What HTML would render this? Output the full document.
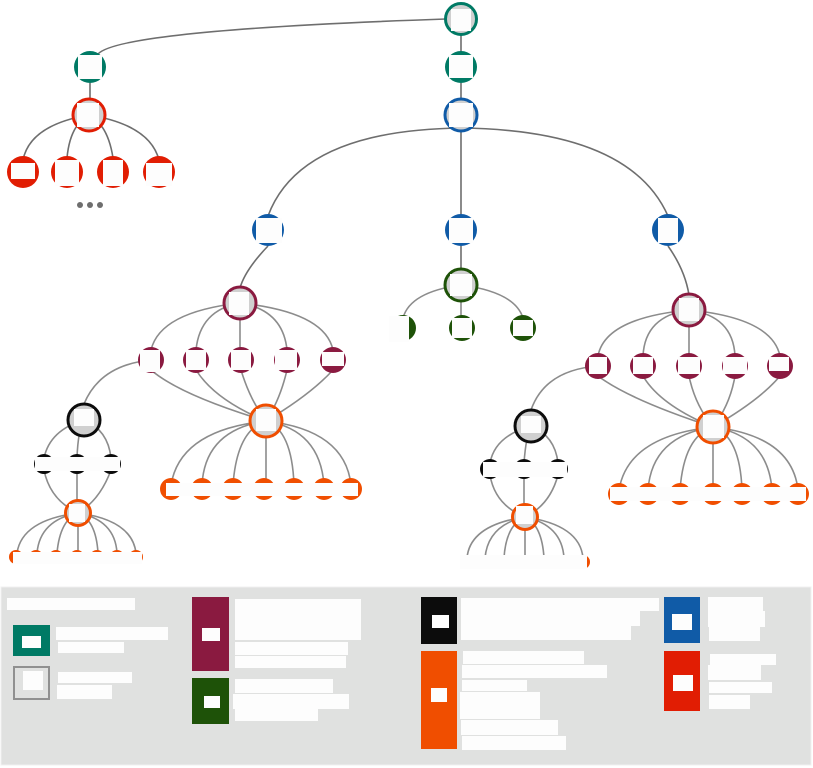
<!DOCTYPE html>
<html><head><meta charset="utf-8"><style>
html,body{margin:0;padding:0;background:#fff;width:813px;height:768px;overflow:hidden}
svg{display:block}
</style></head><body>
<svg width="813" height="768" viewBox="0 0 813 768" xmlns="http://www.w3.org/2000/svg">
<g fill="none" stroke="#6e6e6e" stroke-width="1.6">
<path d="M446,19 Q120,30 98,54"/>
<path d="M461,35 V52 M461,83 V99 M90,83 V99"/>
<path d="M89,115 Q30,125 23,160 M89,115 Q70,125 67,158 M89,115 Q108,125 113,158 M89,115 Q150,125 159,160"/>
<path d="M461,128 Q300,130 268,216 M461,128 V216 M461,128 Q630,130 668,216"/>
<path d="M268,246 Q245,270 240,288 M461,246 V270 M668,246 Q685,270 689,295"/>
</g>
<g fill="none" stroke="#8c8c8c" stroke-width="1.6">
<path d="M240,303 Q160,312 151,350 M240,303 Q200,310 196,350 M240,303 V350 M240,303 Q283,310 287,350 M240,303 Q325,312 333,350"/>
<path d="M461,285 Q410,292 403,318 M461,285 V318 M461,285 Q515,292 523,318"/>
<path d="M689,310 Q605,318 598,356 M689,310 Q645,316 643,356 M689,310 V356 M689,310 Q733,316 735,356 M689,310 Q772,318 780,356"/>
<path d="M151,360 Q100,365 84,404"/>
<path d="M598,366 Q545,370 531,410"/>
<path d="M151,370 Q180,395 266,421 M196,370 Q215,400 266,421 M241,370 Q250,400 266,421 M287,370 Q280,400 266,421 M333,370 Q310,395 266,421"/>
<path d="M598,376 Q630,400 713,427 M643,376 Q660,405 713,427 M689,376 Q695,405 713,427 M735,376 Q730,405 713,427 M780,376 Q760,400 713,427"/>
<path d="M266,421 Q180,430 171,485 M266,421 Q205,430 202,485 M266,421 Q237,430 233,485 M266,421 V485 M266,421 Q292,430 294,485 M266,421 Q320,430 324,485 M266,421 Q345,430 351,485"/>
<path d="M713,427 Q628,436 619,490 M713,427 Q652,436 648,490 M713,427 Q684,436 680,490 M713,427 V490 M713,427 Q740,436 742,490 M713,427 Q768,436 772,490 M713,427 Q792,436 798,490"/>
<path d="M84,420 Q50,430 44,458 M84,420 Q78,430 77,458 M84,420 Q108,430 111,458"/>
<path d="M531,426 Q495,436 490,463 M531,426 Q526,436 524,463 M531,426 Q555,436 558,463"/>
<path d="M44,470 Q50,500 78,513 M77,470 V500 M111,470 Q100,500 78,513"/>
<path d="M490,475 Q495,505 525,517 M524,475 V505 M558,475 Q550,505 525,517"/>
<path d="M78,513 Q22,520 17,553 M78,513 Q40,520 37,553 M78,513 Q60,520 57,553 M78,513 V553 M78,513 Q96,520 98,553 M78,513 Q115,520 117,553 M78,513 Q132,520 136,553"/>
<path d="M525,517 Q470,525 467,558 M525,517 Q488,525 485,558 M525,517 Q506,525 504,558 M525,517 V558 M525,517 Q542,525 544,558 M525,517 Q562,525 564,558 M525,517 Q580,525 583,558"/>
</g>
<!-- ring nodes -->
<g stroke-width="3" fill="#d0d0d0">
<circle cx="461" cy="19" r="15.5" stroke="#007a65"/>
<circle cx="89" cy="115" r="16" stroke="#e11d03"/>
<circle cx="461" cy="115" r="16" stroke="#105ba7"/>
<circle cx="240" cy="303" r="16" stroke="#8a1a40"/>
<circle cx="461" cy="285" r="16" stroke="#1e5208"/>
<circle cx="689" cy="310" r="16" stroke="#8a1a40"/>
<circle cx="84" cy="420" r="16" stroke="#0c0c0c"/>
<circle cx="531" cy="426" r="16" stroke="#0c0c0c"/>
<circle cx="266" cy="421" r="16" stroke="#f04e00"/>
<circle cx="713" cy="427" r="16" stroke="#f04e00"/>
<circle cx="78" cy="513" r="12.5" stroke="#f04e00"/>
<circle cx="525" cy="517" r="12.5" stroke="#f04e00"/>
</g>
<!-- filled nodes -->
<g fill="#007a65"><circle cx="90" cy="67" r="16"/><circle cx="461" cy="67" r="16"/></g>
<g fill="#e11d03"><circle cx="23" cy="172" r="16"/><circle cx="67" cy="172" r="16"/><circle cx="113" cy="172" r="16"/><circle cx="159" cy="172" r="16"/></g>
<g fill="#6e6e6e"><circle cx="80" cy="205" r="3"/><circle cx="90" cy="205" r="3"/><circle cx="100" cy="205" r="3"/></g>
<g fill="#105ba7"><circle cx="268" cy="230" r="16"/><circle cx="461" cy="230" r="16"/><circle cx="668" cy="230" r="16"/></g>
<g fill="#8a1a40"><circle cx="151" cy="360" r="13"/><circle cx="196" cy="360" r="13"/><circle cx="241" cy="360" r="13"/><circle cx="287" cy="360" r="13"/><circle cx="333" cy="360" r="13"/>
<circle cx="598" cy="366" r="13"/><circle cx="643" cy="366" r="13"/><circle cx="689" cy="366" r="13"/><circle cx="735" cy="366" r="13"/><circle cx="780" cy="366" r="13"/></g>
<g fill="#1e5208"><circle cx="403" cy="328" r="13"/><circle cx="462" cy="328" r="13"/><circle cx="523" cy="328" r="13"/></g>
<g fill="#0c0c0c"><circle cx="44" cy="464" r="10"/><circle cx="77" cy="464" r="10"/><circle cx="111" cy="464" r="10"/><circle cx="490" cy="469" r="10"/><circle cx="524" cy="469" r="10"/><circle cx="558" cy="469" r="10"/></g>
<g fill="#f04e00"><circle cx="171" cy="489" r="11"/><circle cx="202" cy="489" r="11"/><circle cx="233" cy="489" r="11"/><circle cx="264" cy="489" r="11"/><circle cx="294" cy="489" r="11"/><circle cx="324" cy="489" r="11"/><circle cx="351" cy="489" r="11"/>
<circle cx="619" cy="494" r="11"/><circle cx="648" cy="494" r="11"/><circle cx="680" cy="494" r="11"/><circle cx="713" cy="494" r="11"/><circle cx="742" cy="494" r="11"/><circle cx="772" cy="494" r="11"/><circle cx="798" cy="494" r="11"/>
<circle cx="16" cy="557" r="7"/><circle cx="36" cy="557" r="7"/><circle cx="56" cy="557" r="7"/><circle cx="77" cy="557" r="7"/><circle cx="97" cy="557" r="7"/><circle cx="117" cy="557" r="7"/><circle cx="136" cy="557" r="7"/>
<circle cx="468" cy="562" r="7"/><circle cx="487" cy="562" r="7"/><circle cx="506" cy="562" r="7"/><circle cx="525" cy="562" r="7"/><circle cx="545" cy="562" r="7"/><circle cx="564" cy="562" r="7"/><circle cx="583" cy="562" r="7"/></g>
<!-- white label boxes -->
<g fill="#fdfdfd">
<rect x="451" y="9" width="20" height="22"/><rect x="78" y="55" width="24" height="24"/><rect x="449" y="55" width="24" height="23"/>
<rect x="77" y="103" width="22" height="24"/><rect x="449" y="103" width="24" height="24"/>
<rect x="11" y="163" width="24" height="16"/><rect x="55" y="160" width="24" height="26"/><rect x="103" y="160" width="20" height="26"/><rect x="146" y="163" width="26" height="23"/>
<rect x="256" y="218" width="26" height="25"/><rect x="449" y="218" width="24" height="25"/><rect x="658" y="218" width="20" height="25"/>
<rect x="229" y="292" width="20" height="23"/><rect x="450" y="274" width="22" height="22"/><rect x="679" y="298" width="20" height="23"/>
<rect x="140" y="350" width="20" height="22"/><rect x="186" y="350" width="20" height="20"/><rect x="231" y="350" width="20" height="20"/><rect x="275" y="350" width="22" height="20"/><rect x="322" y="352" width="22" height="14"/>
<rect x="389" y="316" width="20" height="26"/><rect x="452" y="318" width="20" height="20"/><rect x="513" y="320" width="20" height="16"/>
<rect x="589" y="357" width="18" height="17"/><rect x="633" y="357" width="20" height="17"/><rect x="678" y="357" width="22" height="17"/><rect x="723" y="357" width="24" height="17"/><rect x="769" y="357" width="20" height="14"/>
<rect x="74" y="409" width="20" height="17"/><rect x="521" y="416" width="20" height="17"/>
<rect x="256" y="409" width="20" height="22"/><rect x="703" y="415" width="21" height="23"/>
<rect x="69" y="504" width="16" height="18"/><rect x="516" y="506" width="17" height="18"/>
<rect x="35" y="457" width="85" height="14"/><rect x="483" y="462" width="84" height="15"/>
<rect x="166" y="483" width="192" height="13"/><rect x="610" y="487" width="196" height="14"/>
<rect x="13" y="552" width="129" height="12"/><rect x="460" y="555" width="127" height="14"/>
</g>
<!-- legend -->
<rect x="1" y="587" width="810" height="178" fill="#e0e1e0" stroke="#f0f0f0"/>
<g fill="#fdfdfd">
<rect x="7" y="598" width="128" height="12"/>
<rect x="56" y="627" width="112" height="13"/><rect x="58" y="642" width="66" height="11"/>
<rect x="58" y="672" width="74" height="11"/><rect x="57" y="685" width="55" height="14"/>
<rect x="235" y="599" width="126" height="41"/><rect x="235" y="642" width="113" height="13"/><rect x="235" y="656" width="111" height="12"/>
<rect x="235" y="679" width="98" height="14"/><rect x="233" y="694" width="116" height="15"/><rect x="235" y="709" width="83" height="12"/>
<rect x="461" y="598" width="198" height="13"/><rect x="461" y="611" width="179" height="15"/><rect x="461" y="626" width="170" height="14"/>
<rect x="463" y="651" width="121" height="13"/><rect x="462" y="665" width="145" height="13"/><rect x="462" y="680" width="65" height="11"/><rect x="460" y="692" width="80" height="27"/><rect x="461" y="720" width="97" height="15"/><rect x="462" y="736" width="104" height="14"/>
<rect x="708" y="597" width="55" height="14"/><rect x="708" y="611" width="57" height="16"/><rect x="709" y="627" width="51" height="14"/>
<rect x="710" y="654" width="66" height="11"/><rect x="708" y="665" width="53" height="15"/><rect x="709" y="682" width="63" height="11"/><rect x="709" y="695" width="41" height="14"/>
</g>
<rect x="13" y="625" width="37" height="31" fill="#007a65"/><rect x="22" y="636" width="19" height="12" fill="#fdfdfd"/>
<rect x="14" y="667" width="35" height="32" fill="#e0e1e0" stroke="#909090" stroke-width="2"/><rect x="23" y="671" width="20" height="19" fill="#fdfdfd"/>
<rect x="192" y="597" width="37" height="74" fill="#8a1a40"/><rect x="202" y="628" width="18" height="13" fill="#fdfdfd"/>
<rect x="192" y="678" width="37" height="46" fill="#1e5208"/><rect x="204" y="696" width="16" height="12" fill="#fdfdfd"/>
<rect x="421" y="597" width="36" height="47" fill="#0c0c0c"/><rect x="432" y="615" width="17" height="13" fill="#fdfdfd"/>
<rect x="421" y="651" width="36" height="98" fill="#f04e00"/><rect x="431" y="688" width="16" height="14" fill="#fdfdfd"/>
<rect x="664" y="597" width="36" height="46" fill="#105ba7"/><rect x="672" y="614" width="20" height="16" fill="#fdfdfd"/>
<rect x="664" y="651" width="36" height="60" fill="#e11d03"/><rect x="673" y="675" width="20" height="16" fill="#fdfdfd"/>
</svg>
</body></html>
